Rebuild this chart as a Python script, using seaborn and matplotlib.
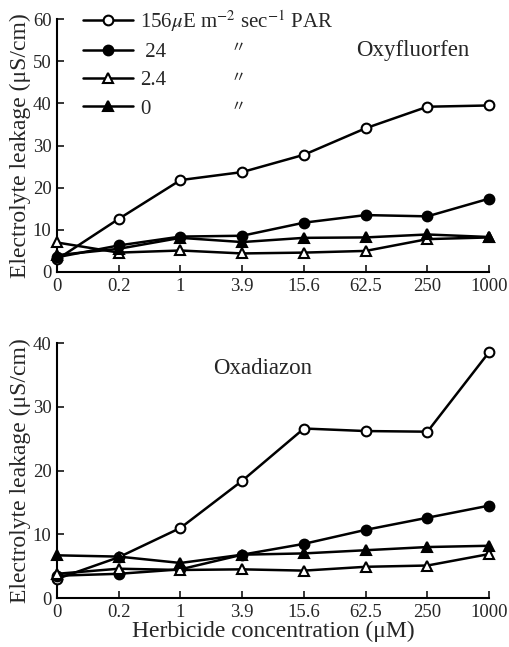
import matplotlib
matplotlib.use("Agg")
import matplotlib.pyplot as plt
import seaborn as sns
import pandas as pd
from matplotlib.lines import Line2D

sns.set_style("ticks")
plt.rcParams['font.family'] = ['Liberation Serif', 'Noto Sans CJK JP', 'DejaVu Sans']
plt.rcParams['mathtext.fontset'] = 'stix'

concentrations = ["0", "0.2", "1", "3.9", "15.6", "62.5", "250", "1000"]
series_names = ["156", "24", "2.4", "0"]

# Oxyfluorfen (top panel)
oxy_156 = [3.0, 12.6, 21.8, 23.7, 27.8, 34.1, 39.2, 39.5]
oxy_24 = [3.5, 6.3, 8.4, 8.6, 11.7, 13.5, 13.2, 17.4]
oxy_2_4 = [7.0, 4.6, 5.1, 4.4, 4.6, 5.0, 7.8, 8.2]
oxy_0 = [4.0, 5.5, 8.1, 7.1, 8.1, 8.2, 8.9, 8.3]

# Oxadiazon (bottom panel)
oxa_156 = [3.0, 6.4, 11.0, 18.4, 26.6, 26.2, 26.1, 38.6]
oxa_24 = [3.5, 3.8, 4.5, 6.8, 8.5, 10.7, 12.6, 14.5]
oxa_2_4 = [3.8, 4.6, 4.4, 4.5, 4.3, 4.9, 5.1, 6.9]
oxa_0 = [6.7, 6.5, 5.5, 6.8, 7.0, 7.5, 8.0, 8.2]

legend_labels = ["156$\\mu$E m$^{-2}$ sec$^{-1}$ PAR", " 24", "2.4", "0"]

styles = {
    "156": dict(marker="o", markerfacecolor="white"),
    "24": dict(marker="o", markerfacecolor="black"),
    "2.4": dict(marker="^", markerfacecolor="white"),
    "0": dict(marker="^", markerfacecolor="black"),
}


def make_df(vals):
    rows = []
    for name, v in zip(series_names, vals):
        for i, val in enumerate(v):
            rows.append({"pos": i, "conc": concentrations[i], "series": name, "value": val})
    return pd.DataFrame(rows)


fig = plt.figure(figsize=(5.09, 6.47), dpi=100)
ax1 = fig.add_axes([0.112, 0.5796, 0.849, 0.391])
ax2 = fig.add_axes([0.112, 0.0757, 0.849, 0.394])

panels = [
    (ax1, make_df([oxy_156, oxy_24, oxy_2_4, oxy_0]), 60, [0, 10, 20, 30, 40, 50, 60]),
    (ax2, make_df([oxa_156, oxa_24, oxa_2_4, oxa_0]), 40, [0, 10, 20, 30, 40]),
]

LW = 1.8
for ax, df, ymax, yt in panels:
    for name in series_names:
        sub = df[df.series == name]
        st = styles[name]
        sns.lineplot(data=sub, x="pos", y="value", ax=ax, color="black",
                     linewidth=LW, marker=st["marker"], markersize=7,
                     markerfacecolor=st["markerfacecolor"], markeredgecolor="black",
                     markeredgewidth=1.5, clip_on=False, legend=False, zorder=3)
    ax.set_xlim(0, 7)
    ax.set_ylim(0, ymax)
    ax.set_xticks(range(len(concentrations)))
    ax.set_xticklabels(concentrations)
    ax.set_yticks(yt)
    ax.tick_params(direction="in", length=5, width=1.3, labelsize=13.5, pad=4)
    sns.despine(ax=ax)
    for s in ["left", "bottom"]:
        ax.spines[s].set_linewidth(1.5)
        ax.spines[s].set_color("black")
    ax.set_xlabel("")
    ax.set_ylabel("Electrolyte leakage (\u03bcS/cm)", fontsize=17, labelpad=1)

ax2.set_xlabel("Herbicide concentration (\u03bcM)", fontsize=17, labelpad=0)

handles = []
for name in series_names:
    st = styles[name]
    handles.append(Line2D([], [], color="black", linewidth=LW, marker=st["marker"],
                          markersize=7, markerfacecolor=st["markerfacecolor"],
                          markeredgecolor="black", markeredgewidth=1.5))
leg = ax1.legend(handles, legend_labels, loc="upper left", bbox_to_anchor=(0.035, 1.085),
                 frameon=False, fontsize=15, handlelength=2.4, handletextpad=0.35,
                 labelspacing=0.42, borderpad=0)

for yy in [0.889, 0.771, 0.656]:
    ax1.text(0.42, yy, "\u3003", transform=ax1.transAxes, fontsize=11,
             ha="center", va="center", family=['Noto Sans CJK JP', 'DejaVu Sans'])

ax1.text(0.824, 0.877, "Oxyfluorfen", transform=ax1.transAxes, fontsize=16.5,
         ha="center", va="center")
ax2.text(0.475, 0.902, "Oxadiazon", transform=ax2.transAxes, fontsize=16.5,
         ha="center", va="center")

fig.savefig("out.png", dpi=100)
